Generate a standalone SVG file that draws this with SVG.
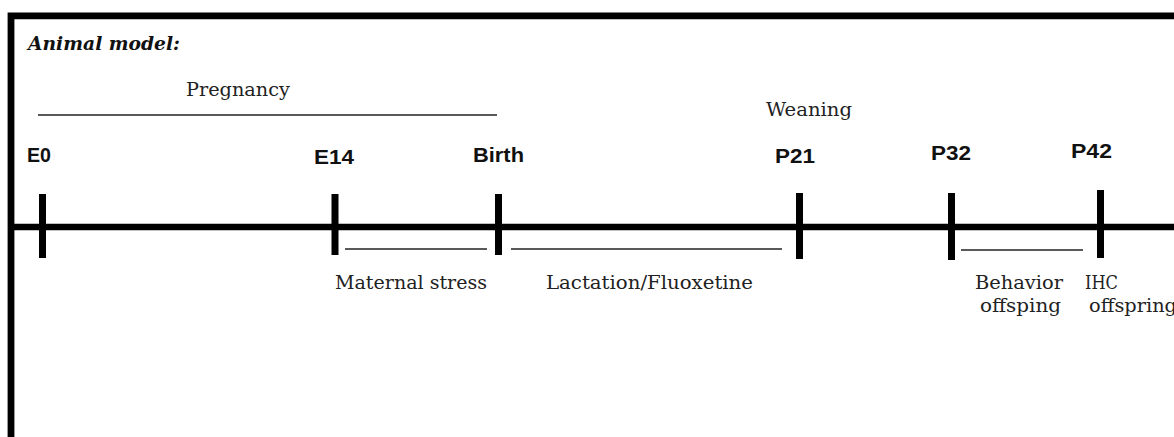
<svg xmlns="http://www.w3.org/2000/svg" width="1174" height="437" viewBox="0 0 1174 437">
<style>
.tp{font-family:"Liberation Sans",Arial,sans-serif;font-weight:bold;font-size:21px;fill:#111}
.sr{font-family:"DejaVu Serif","Liberation Serif",serif;font-size:18.5px;fill:#222}
.tick{stroke:#000;stroke-width:7;fill:none}
.thin{stroke:#222;stroke-width:1.3;fill:none}
</style>
<rect width="1174" height="437" fill="#fff"/>
<g id="frame">
<path d="M11,437 V15.8 H1174" fill="none" stroke="#000" stroke-width="6.8"/>
</g>
<g id="title">
<text x="28" y="50" font-family="DejaVu Serif,'Liberation Serif',serif" font-weight="bold" font-style="italic" font-size="19" fill="#111" textLength="152" lengthAdjust="spacingAndGlyphs">Animal model:</text>
</g>
<g id="connectors">
<line x1="11" y1="227" x2="1174" y2="227" stroke="#000" stroke-width="6.5"/>
<line class="thin" x1="38" y1="115" x2="497" y2="115"/>
<line class="thin" x1="345" y1="249" x2="487" y2="249"/>
<line class="thin" x1="511" y1="249" x2="782" y2="249"/>
<line class="thin" x1="961" y1="250" x2="1083" y2="250"/>
</g>
<g id="pregnancy">
<text class="sr" x="186" y="96" textLength="104" lengthAdjust="spacingAndGlyphs">Pregnancy</text>
</g>
<g id="E0">
<line class="tick" x1="42.5" y1="194" x2="42.5" y2="258"/>
<text class="tp" x="27" y="162" textLength="24" lengthAdjust="spacingAndGlyphs">E0</text>
</g>
<g id="E14">
<line class="tick" x1="335" y1="194" x2="335" y2="255"/>
<text class="tp" x="314" y="164" textLength="40" lengthAdjust="spacingAndGlyphs">E14</text>
</g>
<g id="Birth">
<line class="tick" x1="498.5" y1="194" x2="498.5" y2="255"/>
<text class="tp" x="473" y="162" textLength="51" lengthAdjust="spacingAndGlyphs">Birth</text>
</g>
<g id="P21">
<line class="tick" x1="799.5" y1="193" x2="799.5" y2="259"/>
<text class="sr" x="766" y="116" textLength="86" lengthAdjust="spacingAndGlyphs">Weaning</text>
<text class="tp" x="775" y="163" textLength="40" lengthAdjust="spacingAndGlyphs">P21</text>
</g>
<g id="P32">
<line class="tick" x1="951.5" y1="193" x2="951.5" y2="260"/>
<text class="tp" x="931" y="160" textLength="40" lengthAdjust="spacingAndGlyphs">P32</text>
</g>
<g id="P42">
<line class="tick" x1="1100.5" y1="190" x2="1100.5" y2="258"/>
<text class="tp" x="1071" y="158" textLength="41" lengthAdjust="spacingAndGlyphs">P42</text>
</g>
<g id="maternal-stress">
<text class="sr" x="335" y="289" textLength="152" lengthAdjust="spacingAndGlyphs">Maternal stress</text>
</g>
<g id="lactation">
<text class="sr" x="546" y="289" textLength="207" lengthAdjust="spacingAndGlyphs">Lactation/Fluoxetine</text>
</g>
<g id="behavior">
<text class="sr" x="975" y="289" textLength="88" lengthAdjust="spacingAndGlyphs">Behavior</text>
<text class="sr" x="980" y="312" textLength="81" lengthAdjust="spacingAndGlyphs">offsping</text>
</g>
<g id="ihc">
<text class="sr" x="1085" y="289" textLength="33" lengthAdjust="spacingAndGlyphs">IHC</text>
<text class="sr" x="1089" y="312" textLength="88" lengthAdjust="spacingAndGlyphs">offspring</text>
</g>
</svg>
